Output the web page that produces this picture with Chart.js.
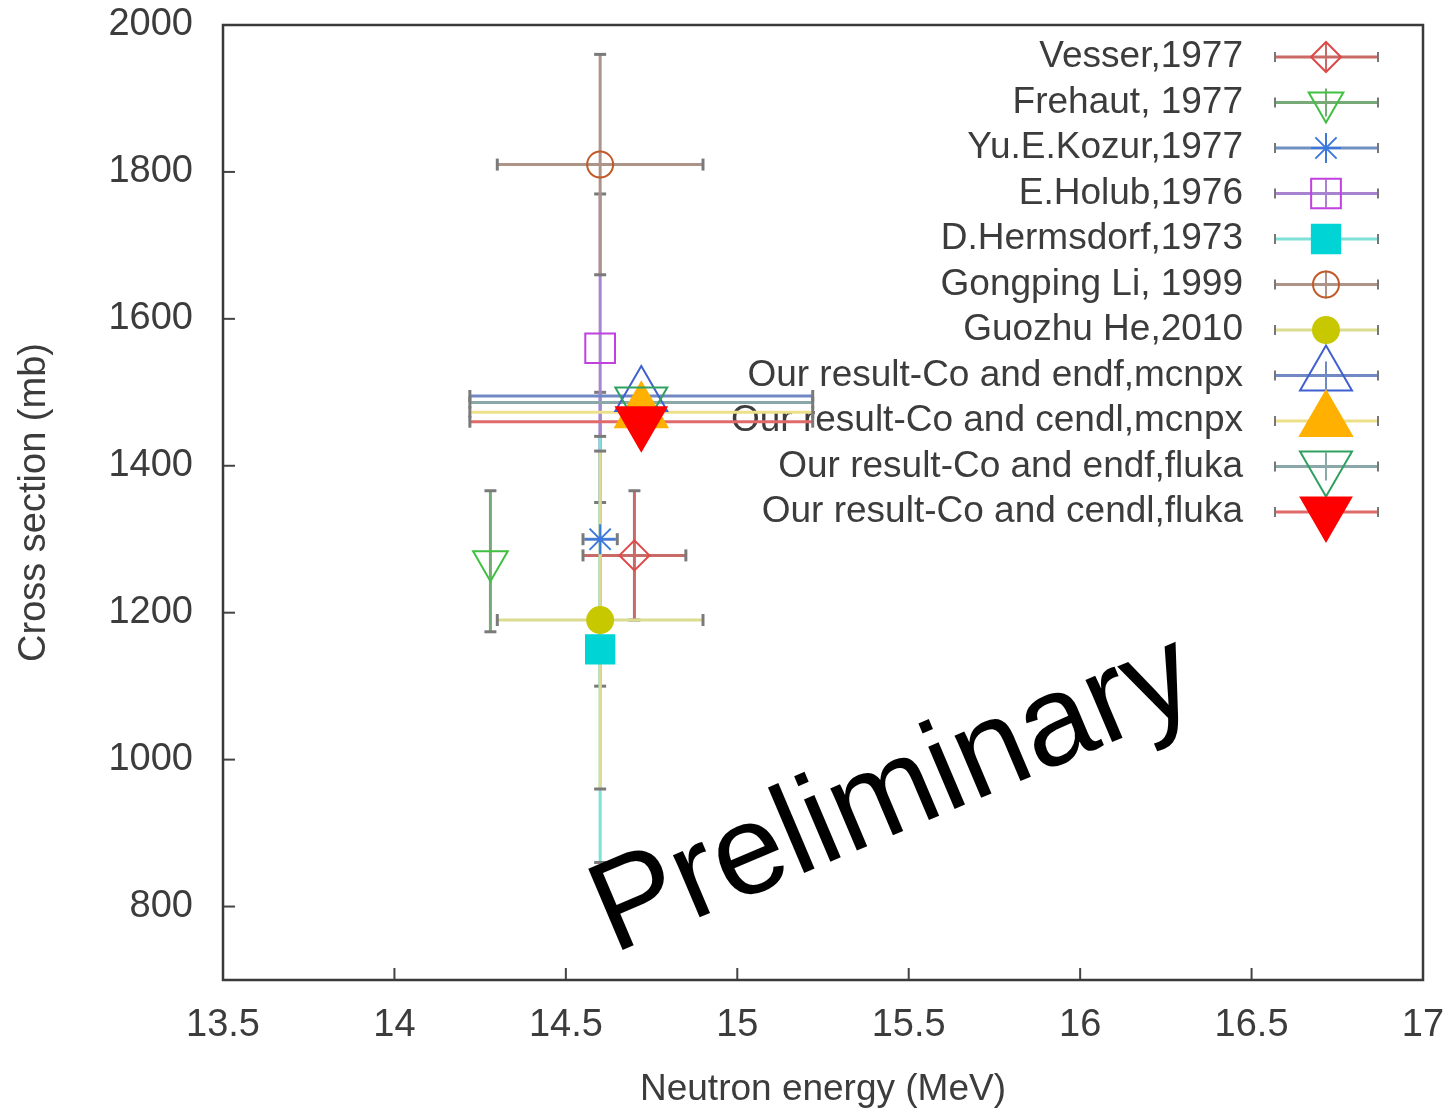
<!DOCTYPE html>
<html>
<head>
<meta charset="utf-8">
<script src="https://cdn.jsdelivr.net/npm/chart.js@4/dist/chart.umd.min.js"></script>
<style>
  html, body { margin: 0; padding: 0; background: #fff; }
</style>
</head>
<body>
<canvas id="chart" width="1449" height="1112"></canvas>
<script>
'use strict';

// data
const labels = [
  'Vesser,1977',
  'Frehaut, 1977',
  'Yu.E.Kozur,1977',
  'E.Holub,1976',
  'D.Hermsdorf,1973',
  'Gongping Li, 1999',
  'Guozhu He,2010',
  'Our result-Co and endf,mcnpx',
  'Our result-Co and cendl,mcnpx',
  'Our result-Co and endf,fluka',
  'Our result-Co and cendl,fluka'
];
const energy = [14.70, 14.28, 14.60, 14.60, 14.60, 14.60, 14.60, 14.72, 14.72, 14.72, 14.72];
const energyErr = [0.15, 0, 0.05, 0, 0, 0.30, 0.30, 0.50, 0.50, 0.50, 0.50];
const crossSection = [1278, 1270, 1300, 1560, 1150, 1810, 1190, 1495, 1473, 1486, 1460];
const crossSectionErr = [88, 96, 200, 210, 290, 150, 230, 0, 0, 0, 0];
const xTicks = [13.5, 14, 14.5, 15, 15.5, 16, 16.5, 17];
const yTicks = [800, 1000, 1200, 1400, 1600, 1800, 2000];

// how each series looks
const styles = [
  { color: '#e04848', bar: '#c86a66', shape: 'rectRot', r: 15, fill: false },
  { color: '#40c040', bar: '#78aa78', shape: 'triangle', rot: 180, r: 20, fill: false },
  { color: '#3c78dc', bar: '#7090c0', shape: 'star', r: 15, fill: false },
  { color: '#c040e0', bar: '#a884d0', shape: 'rect', r: 21, fill: false },
  { color: '#00d4d4', bar: '#7ee0d6', shape: 'rect', r: 20, fill: true },
  { color: '#c05a28', bar: '#ae9488', shape: 'circle', r: 13, fill: false },
  { color: '#c8c800', bar: '#dcdc90', shape: 'circle', r: 13, fill: true },
  { color: '#4060d0', bar: '#7088c4', shape: 'triangle', r: 30, fill: false },
  { color: '#ffb000', bar: '#eee08a', shape: 'triangle', r: 30, fill: true },
  { color: '#30a060', bar: '#8aa8a8', shape: 'triangle', rot: 180, r: 30, fill: false },
  { color: '#ff0000', bar: '#e06a6a', shape: 'triangle', rot: 180, r: 29, fill: true }
];

const FONT = '"Liberation Sans", Arial, sans-serif';
const TEXT = '#3c3c3c';

function drawMarker(ctx, s, x, y) {
  ctx.save();
  ctx.strokeStyle = s.color;
  ctx.fillStyle = s.fill ? s.color : 'rgba(0,0,0,0)';
  ctx.lineWidth = 2;
  Chart.helpers.drawPoint(ctx, { pointStyle: s.shape, radius: s.r, rotation: s.rot || 0, borderWidth: 2 }, x, y);
  ctx.restore();
}

function bar(ctx, x1, y1, x2, y2, color, w) {
  ctx.strokeStyle = color;
  ctx.lineWidth = w;
  ctx.beginPath();
  ctx.moveTo(x1, y1);
  ctx.lineTo(x2, y2);
  ctx.stroke();
}

const framePlugin = {
  id: 'frame',
  beforeDatasetsDraw(chart) {
    const ctx = chart.ctx;
    const ca = chart.chartArea;
    const xs = chart.scales.x;
    const ys = chart.scales.y;

    // key, drawn first so the data lies over it
    ctx.save();
    ctx.font = '37px ' + FONT;
    ctx.textAlign = 'right';
    ctx.textBaseline = 'middle';
    labels.forEach((name, i) => {
      const s = styles[i];
      const yy = ca.top + 32 + i * 45.5;
      ctx.fillStyle = TEXT;
      ctx.fillText(name, ca.right - 180, yy);
      const a = ca.right - 148, b = ca.right - 45, m = ca.right - 97;
      bar(ctx, a, yy, b, yy, s.bar, 3);
      bar(ctx, a, yy - 5, a, yy + 5, '#777', 2);
      bar(ctx, b, yy - 5, b, yy + 5, '#777', 2);
      bar(ctx, m, yy - 14, m, yy + 14, s.bar, 2);
      drawMarker(ctx, s, m, yy);
    });
    ctx.restore();

    // error bars
    ctx.save();
    labels.forEach((name, i) => {
      const s = styles[i];
      const px = xs.getPixelForValue(energy[i]);
      const py = ys.getPixelForValue(crossSection[i]);
      if (crossSectionErr[i] > 0) {
        const top = ys.getPixelForValue(crossSection[i] + crossSectionErr[i]);
        const bot = ys.getPixelForValue(crossSection[i] - crossSectionErr[i]);
        bar(ctx, px, top, px, bot, s.bar, 3);
        bar(ctx, px - 6, top, px + 6, top, '#7a7a7a', 3);
        bar(ctx, px - 6, bot, px + 6, bot, '#7a7a7a', 3);
      }
      if (energyErr[i] > 0) {
        const l = xs.getPixelForValue(energy[i] - energyErr[i]);
        const r = xs.getPixelForValue(energy[i] + energyErr[i]);
        bar(ctx, l, py, r, py, s.bar, 3);
        bar(ctx, l, py - 6, l, py + 6, '#7a7a7a', 3);
        bar(ctx, r, py - 6, r, py + 6, '#7a7a7a', 3);
      }
    });
    ctx.restore();
  },
  afterDraw(chart) {
    const ctx = chart.ctx;
    const ca = chart.chartArea;
    const xs = chart.scales.x;
    const ys = chart.scales.y;
    ctx.save();
    // inward ticks
    xTicks.forEach(v => {
      const x = xs.getPixelForValue(v);
      bar(ctx, x, ca.bottom, x, ca.bottom - 12, '#444', 2);
    });
    yTicks.forEach(v => {
      const y = ys.getPixelForValue(v);
      bar(ctx, ca.left, y, ca.left + 12, y, '#444', 2);
    });
    // box
    ctx.strokeStyle = '#3a3a3a';
    ctx.lineWidth = 2.5;
    ctx.strokeRect(ca.left, ca.top, ca.right - ca.left, ca.bottom - ca.top);

    // watermark
    ctx.translate(ca.left + 390, ca.bottom - 26);
    ctx.rotate(-23 * Math.PI / 180);
    ctx.font = '128px ' + FONT;
    ctx.fillStyle = '#000';
    ctx.textAlign = 'left';
    ctx.textBaseline = 'alphabetic';
    ctx.fillText('Preliminary', 0, 0);
    ctx.restore();
  }
};

const datasets = labels.map((name, i) => ({
  label: name,
  data: [{ x: energy[i], y: crossSection[i] }],
  order: labels.length - i,
  pointStyle: styles[i].shape,
  pointRadius: styles[i].r,
  pointRotation: styles[i].rot || 0,
  pointBorderWidth: 2,
  pointBorderColor: styles[i].color,
  pointBackgroundColor: styles[i].fill ? styles[i].color : 'rgba(0,0,0,0)',
  showLine: false
}));

new Chart(document.getElementById('chart'), {
  type: 'scatter',
  data: { datasets: datasets },
  plugins: [framePlugin],
  options: {
    responsive: false,
    animation: false,
    devicePixelRatio: 1,
    layout: { autoPadding: false, padding: { top: 25, right: 26, left: 0, bottom: 0 } },
    plugins: {
      legend: { display: false },
      tooltip: { enabled: false }
    },
    scales: {
      x: {
        type: 'linear',
        min: 13.5,
        max: 17,
        afterBuildTicks: s => { s.ticks = xTicks.map(v => ({ value: v })); },
        afterFit: s => {
          s.height = 132;
          s.paddingLeft = 0;
          s.paddingRight = 0;
        },
        grid: { display: false, drawTicks: false },
        border: { display: false },
        ticks: {
          padding: 23,
          color: TEXT,
          font: { family: FONT, size: 38 },
          maxRotation: 0,
          callback: v => String(v)
        },
        title: {
          display: true,
          text: 'Neutron energy (MeV)',
          color: TEXT,
          font: { family: FONT, size: 37 },
          padding: { top: 0, bottom: 0 }
        }
      },
      y: {
        type: 'linear',
        min: 700,
        max: 2000,
        afterBuildTicks: s => { s.ticks = yTicks.map(v => ({ value: v })); },
        afterFit: s => {
          s.width = 223;
          s.paddingTop = 0;
          s.paddingBottom = 0;
        },
        grid: { display: false, drawTicks: false },
        border: { display: false },
        ticks: {
          padding: 30,
          color: TEXT,
          font: { family: FONT, size: 38 },
          callback: v => String(v)
        },
        title: {
          display: true,
          text: 'Cross section (mb)',
          color: TEXT,
          font: { family: FONT, size: 38 },
          padding: { top: 12, bottom: 0 }
        }
      }
    }
  }
});
</script>
</body>
</html>
